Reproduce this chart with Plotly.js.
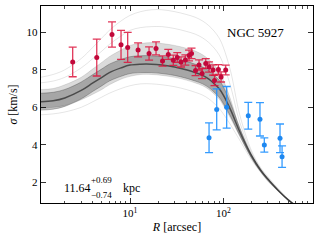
<!DOCTYPE html>
<html><head><meta charset="utf-8">
<script src="https://cdn.plot.ly/plotly-3.0.1.min.js"></script>
<style>html,body{margin:0;padding:0;background:#fff}#chart{width:320px;height:240px}</style>
</head><body><div id="chart"></div>
<script>
const redR     = [2.43, 4.40, 6.41, 8.01, 9.44, 12.2, 16.0, 19.0, 22.3, 25.7, 29.1, 32.1, 35.2, 39.2, 42.9, 45.6, 50.4, 54.9, 59.2, 64.8, 70.3, 77.6, 80.5, 88.5, 94.6, 106];
const redSigma = [8.42, 8.65, 9.88, 9.33, 9.19, 9.06, 8.87, 9.14, 8.47, 8.82, 8.51, 8.65, 8.42, 8.52, 8.76, 8.87, 7.96, 8.26, 7.80, 8.34, 8.15, 7.99, 7.43, 8.02, 7.62, 7.99];
const redErr   = [0.79, 0.98, 0.67, 0.77, 0.80, 0.37, 0.35, 0.35, 0.27, 0.27, 0.27, 0.26, 0.27, 0.27, 0.29, 0.28, 0.27, 0.27, 0.27, 0.26, 0.27, 0.27, 0.27, 0.26, 0.27, 0.26];

const blueR     = [70.3, 84.9, 108.6, 185, 247, 275, 405, 426];
const blueSigma = [4.38, 5.89, 6.00, 5.55, 5.36, 3.99, 4.35, 3.37];
const blueErr   = [0.79, 1.09, 1.11, 0.71, 0.89, 0.38, 0.76, 0.57];

// Model curves (on a common radius grid)
const modelR      = [1.1, 1.5, 2, 3, 4, 5, 6, 8, 10, 13, 17, 22, 30, 40, 50, 60, 70, 80, 90, 100, 120, 150, 200, 250, 300, 400, 500, 600, 700, 900];
const modelMedian = [6.30, 6.35, 6.50, 6.90, 7.30, 7.60, 7.85, 8.10, 8.25, 8.30, 8.30, 8.25, 8.15, 8.00, 7.85, 7.70, 7.50, 7.25, 7.00, 6.65, 5.85, 4.70, 3.42, 2.65, 2.18, 1.50, 1.05, 0.75, 0.50, 0.20];
const bandHi      = [6.75, 6.80, 6.95, 7.35, 7.75, 8.05, 8.30, 8.55, 8.70, 8.75, 8.75, 8.70, 8.60, 8.45, 8.30, 8.15, 7.95, 7.70, 7.45, 7.10, 6.20, 4.90, 3.50, 2.72, 2.20, 1.53, 1.07, 0.77, 0.54, 0.24];
const bandLo      = [5.85, 5.90, 6.05, 6.45, 6.85, 7.15, 7.40, 7.65, 7.80, 7.85, 7.85, 7.80, 7.70, 7.55, 7.40, 7.25, 7.05, 6.80, 6.55, 6.20, 5.50, 4.50, 3.30, 2.58, 2.10, 1.47, 1.03, 0.73, 0.46, 0.16];
const faintHi3    = [7.60, 7.75, 8.00, 8.60, 9.20, 9.70, 10.10, 10.60, 10.90, 11.10, 11.20, 11.20, 11.10, 10.95, 10.80, 10.60, 10.35, 10.05, 9.70, 9.20, 7.90, 5.60, 3.70, 2.80, 2.30, 1.60, 1.10, 0.80, 0.55, 0.25];
const faintHi2    = [7.30, 7.40, 7.60, 8.10, 8.60, 9.00, 9.35, 9.80, 10.10, 10.25, 10.30, 10.30, 10.20, 10.05, 9.90, 9.70, 9.45, 9.15, 8.80, 8.30, 7.10, 5.20, 3.60, 2.75, 2.25, 1.55, 1.08, 0.78, 0.55, 0.25];
const faintHi1    = [6.95, 7.00, 7.20, 7.60, 8.05, 8.40, 8.70, 9.05, 9.30, 9.40, 9.45, 9.40, 9.30, 9.15, 9.00, 8.80, 8.55, 8.25, 7.90, 7.45, 6.40, 4.90, 3.50, 2.70, 2.20, 1.52, 1.06, 0.76, 0.53, 0.23];
const faintLo1    = [5.95, 6.00, 6.10, 6.40, 6.70, 6.95, 7.20, 7.50, 7.65, 7.75, 7.75, 7.70, 7.60, 7.45, 7.30, 7.15, 6.95, 6.70, 6.45, 6.10, 5.40, 4.45, 3.30, 2.60, 2.10, 1.48, 1.02, 0.73, 0.50, 0.20];
const faintLo2    = [5.60, 5.65, 5.75, 6.00, 6.30, 6.55, 6.75, 7.00, 7.15, 7.25, 7.25, 7.20, 7.10, 6.95, 6.80, 6.65, 6.45, 6.20, 5.95, 5.65, 5.05, 4.25, 3.20, 2.55, 2.05, 1.45, 1.00, 0.72, 0.48, 0.18];

const xMajorTicks  = [10, 100];
const xMajorLabels = ['10<sup>1</sup>', '10<sup>2</sup>'];
const xMinorTicks  = [2, 3, 4, 5, 6, 7, 8, 9, 20, 30, 40, 50, 60, 70, 80, 90, 200, 300, 400, 500, 600, 700, 800, 900];
const yTicks       = [2, 4, 6, 8, 10];

const FONT = 'Liberation Serif, Times New Roman, serif';
const traces = [];

// outer faint fill
traces.push({x: modelR, y: faintLo1, mode: 'lines', line: {width: 0, shape: 'spline'}, hoverinfo: 'skip', showlegend: false});
traces.push({x: modelR, y: faintHi1, mode: 'lines', line: {width: 0, shape: 'spline'}, fill: 'tonexty', fillcolor: 'rgba(0,0,0,0.14)', hoverinfo: 'skip', showlegend: false});
// inner band
traces.push({x: modelR, y: bandLo, mode: 'lines', line: {width: 0, shape: 'spline'}, hoverinfo: 'skip', showlegend: false});
traces.push({x: modelR, y: bandHi, mode: 'lines', line: {width: 0, shape: 'spline'}, fill: 'tonexty', fillcolor: 'rgba(0,0,0,0.24)', hoverinfo: 'skip', showlegend: false});

[faintHi3, faintHi2, faintHi1, faintLo1, faintLo2].forEach(arr => {
  traces.push({x: modelR, y: arr, mode: 'lines', line: {color: 'rgba(0,0,0,0.10)', width: 1, shape: 'spline'}, hoverinfo: 'skip', showlegend: false});
});
[bandHi, bandLo].forEach(arr => {
  traces.push({x: modelR, y: arr, mode: 'lines', line: {color: 'rgba(0,0,0,0.24)', width: 1, shape: 'spline'}, hoverinfo: 'skip', showlegend: false});
});
traces.push({x: modelR, y: modelMedian, mode: 'lines', line: {color: 'rgba(0,0,0,0.55)', width: 1.5, shape: 'spline'}, hoverinfo: 'skip', showlegend: false});

traces.push({x: redR, y: redSigma, mode: 'markers', type: 'scatter',
  marker: {color: '#c2083a', size: 5},
  error_y: {type: 'data', array: redErr, visible: true, color: 'rgba(220,20,60,0.85)', thickness: 1.3, width: 4},
  showlegend: false});
traces.push({x: blueR, y: blueSigma, mode: 'markers', type: 'scatter',
  marker: {color: '#1e88f0', size: 5},
  error_y: {type: 'data', array: blueErr, visible: true, color: 'rgba(30,144,255,0.9)', thickness: 1.3, width: 4},
  showlegend: false});

const layout = {
  width: 320, height: 240,
  margin: {l: 41, r: 7, t: 6, b: 37},
  paper_bgcolor: '#fff', plot_bgcolor: '#fff',
  font: {family: FONT, color: '#000', size: 11},
  showlegend: false,
  xaxis: {
    type: 'log', range: [0.046, 2.961],
    showline: true, linecolor: '#000', linewidth: 1.2, mirror: 'allticks',
    ticks: 'inside', ticklen: 5, tickwidth: 0.8, tickcolor: '#000',
    tickmode: 'array', tickvals: xMajorTicks, ticktext: xMajorLabels,
    minor: {tickmode: 'array', tickvals: xMinorTicks, ticks: 'inside', ticklen: 2.5, tickwidth: 0.7, tickcolor: '#000', showgrid: false},
    showgrid: false, zeroline: false,
    tickfont: {family: FONT, size: 11},
    title: {text: '<i>R</i> [arcsec]', font: {family: FONT, size: 12}, standoff: 4}
  },
  yaxis: {
    range: [0.9, 11.4],
    showline: true, linecolor: '#000', linewidth: 1.2, mirror: 'allticks',
    ticks: 'inside', ticklen: 5, tickwidth: 0.8, tickcolor: '#000',
    tickmode: 'array', tickvals: yTicks,
    showgrid: false, zeroline: false,
    tickfont: {family: FONT, size: 11},
    title: {text: '<i>σ</i> [km/s]', font: {family: FONT, size: 12}, standoff: 6}
  },
  annotations: [
    {xref: 'paper', yref: 'paper', x: 0.79, y: 0.868, text: 'NGC 5927', showarrow: false, xanchor: 'center', yanchor: 'middle', font: {family: FONT, size: 13}},
    {xref: 'paper', yref: 'paper', x: 0.077, y: 0.076, text: '11.64', showarrow: false, xanchor: 'left', yanchor: 'middle', font: {family: FONT, size: 12}},
    {xref: 'paper', yref: 'paper', x: 0.175, y: 0.117, text: '+0.69', showarrow: false, xanchor: 'left', yanchor: 'middle', font: {family: FONT, size: 9}},
    {xref: 'paper', yref: 'paper', x: 0.175, y: 0.041, text: '−0.74', showarrow: false, xanchor: 'left', yanchor: 'middle', font: {family: FONT, size: 9}},
    {xref: 'paper', yref: 'paper', x: 0.294, y: 0.076, text: 'kpc', showarrow: false, xanchor: 'left', yanchor: 'middle', font: {family: FONT, size: 12}}
  ]
};

Plotly.newPlot('chart', traces, layout, {staticPlot: true, displayModeBar: false});
</script>
</body></html>
